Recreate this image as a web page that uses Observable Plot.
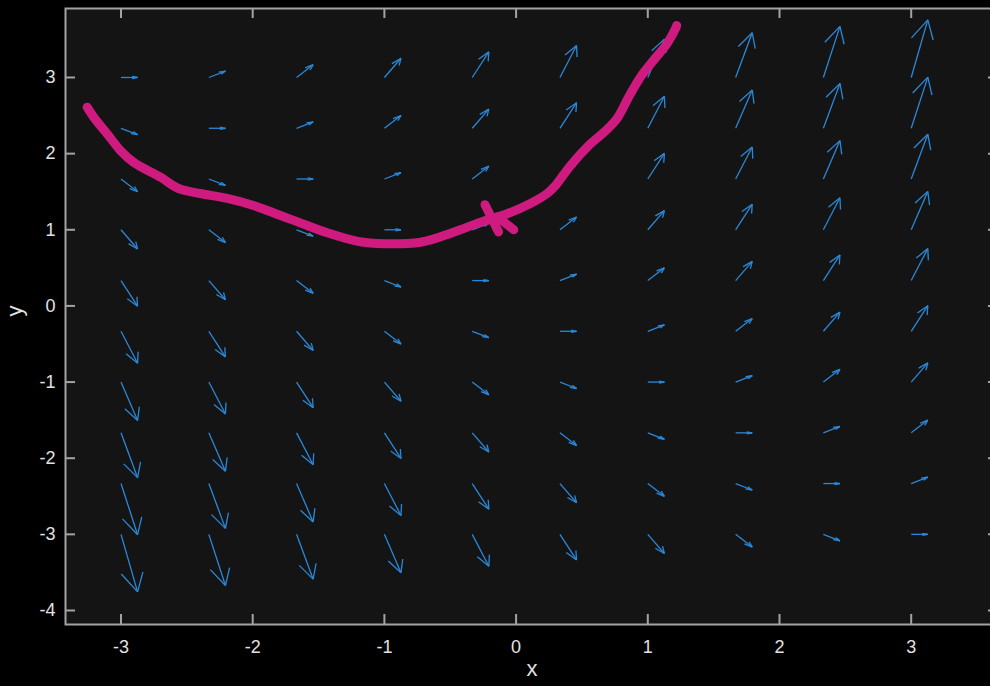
<!DOCTYPE html>
<html><head><meta charset="utf-8">
<script src="https://cdn.jsdelivr.net/npm/d3@7"></script>
<script src="https://cdn.jsdelivr.net/npm/@observablehq/plot@0.6"></script>
<style>
html,body{margin:0;padding:0;background:#000;overflow:hidden;}
#chart{width:990px;height:686px;overflow:hidden;background:#000;}
#chart svg{display:block;max-width:none !important;width:999px !important;height:686px !important;}
</style></head><body><div id="chart"></div>
<script>
// Grid of arrow tails
const xGrid = [-3, -2.333, -1.667, -1, -0.333, 0.333, 1, 1.667, 2.333, 3];
const yGrid = [3, 2.333, 1.667, 1, 0.333, -0.333, -1, -1.667, -2.333, -3];
// Horizontal component of every arrow
const uValue = 1;
// Vertical components, one row per yGrid value (columns follow xGrid)
const vRows = [
  [ 0.00,  0.67,  1.33,  2.00,  2.67,  3.33,  4.00,  4.67,  5.33,  6.00],
  [-0.67,  0.00,  0.67,  1.33,  2.00,  2.67,  3.33,  4.00,  4.67,  5.33],
  [-1.33, -0.67,  0.00,  0.67,  1.33,  2.00,  2.67,  3.33,  4.00,  4.67],
  [-2.00, -1.33, -0.67,  0.00,  0.67,  1.33,  2.00,  2.67,  3.33,  4.00],
  [-2.67, -2.00, -1.33, -0.67,  0.00,  0.67,  1.33,  2.00,  2.67,  3.33],
  [-3.33, -2.67, -2.00, -1.33, -0.67,  0.00,  0.67,  1.33,  2.00,  2.67],
  [-4.00, -3.33, -2.67, -2.00, -1.33, -0.67,  0.00,  0.67,  1.33,  2.00],
  [-4.67, -4.00, -3.33, -2.67, -2.00, -1.33, -0.67,  0.00,  0.67,  1.33],
  [-5.33, -4.67, -4.00, -3.33, -2.67, -2.00, -1.33, -0.67,  0.00,  0.67],
  [-6.00, -5.33, -4.67, -4.00, -3.33, -2.67, -2.00, -1.33, -0.67,  0.00]
];
// Hand-drawn solution curve
const curveX = [-3.257, -3.207, -3.105, -3.004, -2.905, -2.700, -2.563, -2.396, -2.194, -1.994, -1.789, -1.586, -1.408, -1.159, -0.726, -0.475, -0.270, -0.068, 0.109, 0.236, 0.299, 0.413, 0.565, 0.680, 0.770, 0.860, 0.950, 1.043, 1.147, 1.211, 1.219];
const curveY = [2.610, 2.478, 2.260, 2.040, 1.887, 1.690, 1.542, 1.476, 1.411, 1.319, 1.188, 1.056, 0.947, 0.837, 0.837, 0.968, 1.099, 1.210, 1.345, 1.476, 1.581, 1.844, 2.129, 2.300, 2.470, 2.760, 3.020, 3.224, 3.447, 3.644, 3.683];
// Cross mark strokes
const markX1 = [-0.236, -0.141];
const markY1 = [1.330, 1.168];
const markX2 = [-0.133, -0.018];
const markY2 = [0.972, 1.000];
// Ticks
const xTicks = [-3, -2, -1, 0, 1, 2, 3];
const yTicks = [-4, -3, -2, -1, 0, 1, 2, 3];

const arrowScale = 0.126, headAlpha = 0.33, headBeta = 0.33;
const segs = [];
yGrid.forEach((y, i) => xGrid.forEach((x, j) => {
  const u = arrowScale * uValue, v = arrowScale * vRows[i][j];
  const tx = x + u, ty = y + v;
  segs.push({x1: x, y1: y, x2: tx, y2: ty});
  segs.push({x1: tx - headAlpha * (u + headBeta * v), y1: ty - headAlpha * (v - headBeta * u), x2: tx, y2: ty});
  segs.push({x1: tx - headAlpha * (u - headBeta * v), y1: ty - headAlpha * (v + headBeta * u), x2: tx, y2: ty});
}));
const curve = curveX.map((x, i) => ({x, y: curveY[i]}));
const marks = markX1.map((x, i) => ({x1: x, y1: markY1[i], x2: markX2[i], y2: markY2[i]}));

const W = 999, H = 686, mL = 65, mR = 1, mT = 8, mB = 62;
const pw = W - mL - mR, ph = H - mT - mB;
const axisColor = "#a3a3a3";
const textColor = "#e2e2e2";

const chart = Plot.plot({
  width: W, height: H,
  marginLeft: mL, marginRight: mR, marginTop: mT, marginBottom: mB,
  style: {background: "#000", color: textColor, fontFamily: "'Liberation Sans', Arial, sans-serif", fontSize: "17px"},
  x: {domain: [-3.4214, 3.6629], label: null},
  y: {domain: [-4.184, 3.906], label: null},
  marks: [
    Plot.frame({fill: "#141414"}),
    Plot.link(segs, {x1: "x1", y1: "y1", x2: "x2", y2: "y2", stroke: "#2b88d8", strokeWidth: 1.3}),
    Plot.line(curve, {x: "x", y: "y", stroke: "#cf1b7f", strokeWidth: 9, strokeLinecap: "round", strokeLinejoin: "round", curve: "catmull-rom"}),
    Plot.link(marks, {x1: "x1", y1: "y1", x2: "x2", y2: "y2", stroke: "#cf1b7f", strokeWidth: 9, strokeLinecap: "round"}),
    Plot.ruleX(xTicks, {x: d => d, insetTop: ph - 10, stroke: axisColor, strokeWidth: 2}),
    Plot.ruleX(xTicks, {x: d => d, insetBottom: ph - 10, stroke: axisColor, strokeWidth: 2}),
    Plot.ruleY(yTicks, {y: d => d, insetRight: pw - 10, stroke: axisColor, strokeWidth: 2}),
    Plot.ruleY(yTicks, {y: d => d, insetLeft: pw - 10, stroke: axisColor, strokeWidth: 2}),
    Plot.frame({stroke: axisColor, strokeWidth: 2}),
    Plot.axisX(xTicks, {tickSize: 0, tickPadding: 16, tickFormat: d => String(d), fontSize: 18, fill: textColor}),
    Plot.axisY(yTicks, {tickSize: 0, tickPadding: 10, tickFormat: d => String(d), fontSize: 18, fill: textColor}),
    Plot.text(["x"], {frameAnchor: "bottom", dy: 51, text: d => d, fontSize: 22, fill: textColor}),
    Plot.text(["y"], {frameAnchor: "left", dx: -51, rotate: -90, text: d => d, fontSize: 22, fill: textColor})
  ]
});
document.getElementById("chart").appendChild(chart);
</script>
</body></html>
